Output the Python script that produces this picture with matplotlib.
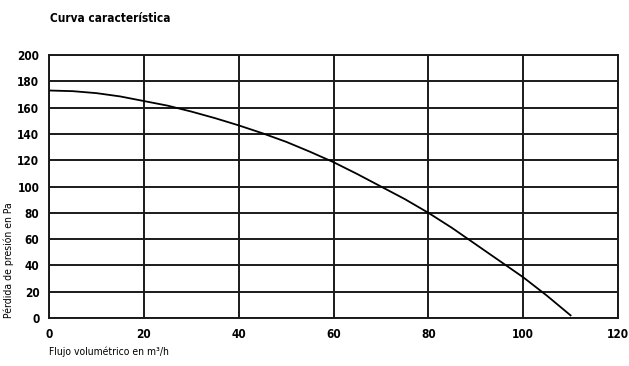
import matplotlib.pyplot as plt

# curve
flujo = [0, 5, 10, 15, 20, 25, 30, 35, 40, 45, 50, 55, 60, 65, 70, 75, 80, 85, 90, 95, 100, 105, 110]
presion = [173, 172.5, 171, 168.5, 165, 161.5, 157, 152, 146.5, 140.5, 134, 126.5, 118.5, 109.5, 100, 90.5, 80, 68.5, 56, 43.5, 31, 17, 2]

xticks = [0, 20, 40, 60, 80, 100, 120]
yticks = list(range(0, 201, 20))

plt.rcParams['font.family'] = ['DejaVu Sans']
plt.rcParams['font.stretch'] = 'condensed'

fig = plt.figure(figsize=(6.29, 3.66), dpi=100)
ax = fig.add_axes([49 / 629, 1 - 318 / 366, 569 / 629, 263 / 366])

ax.plot(flujo, presion, color='black', lw=1.3)
ax.set_xlim(0, 120)
ax.set_ylim(0, 200)
ax.set_xticks(xticks)
ax.set_yticks(yticks)
ax.grid(True, color='#1a1a1a', lw=1.4)
ax.set_axisbelow(True)
for s in ax.spines.values():
    s.set_linewidth(1.4)
    s.set_color('#1a1a1a')
ax.tick_params(length=0, labelsize=8.5, pad=7)
for lab in ax.get_xticklabels() + ax.get_yticklabels():
    lab.set_fontweight('bold')

fig.text(50 / 629, 1 - 18 / 366, 'Curva característica', fontsize=8.5, fontweight='bold',
         va='center', ha='left', fontstretch='condensed')
fig.text(49 / 629, 1 - 352 / 366, 'Flujo volumétrico en m³/h', fontsize=7.5, va='center', ha='left',
         fontstretch='condensed')
fig.text(9 / 629, 1 - 318 / 366, 'Pérdida de presión en Pa', fontsize=7.5, rotation=90,
         va='bottom', ha='center', fontstretch='condensed')

fig.savefig('out.png', dpi=100)
